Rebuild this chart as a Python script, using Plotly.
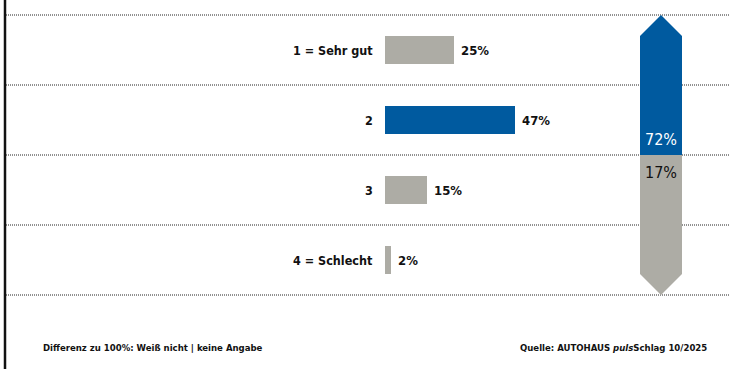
import plotly.graph_objects as go

categories = ["1 = Sehr gut", "2", "3", "4 = Schlecht"]
values = [25, 47, 15, 2]
bar_colors = ["#adaca5", "#005a9f", "#adaca5", "#adaca5"]
footnote_left = "Differenz zu 100%: Weiß nicht | keine Angabe"
footnote_right = "Quelle: AUTOHAUS <i>puls</i>Schlag 10/2025"

top2 = sum(values[:2])
bottom2 = sum(values[2:])

FONT = "DejaVu Sans Condensed, Liberation Sans Narrow, sans-serif"
BLUE = "#005a9f"
GRAY = "#adaca5"

W, H = 729, 369
px_per_pct = 2.77
x0_px = 385
xmin = -x0_px / px_per_pct
xmax = (W - x0_px) / px_per_pct
row_px = 70
first_row_px = 50
ytop = -first_row_px / row_px
ybot = ytop + H / row_px

fig = go.Figure()
fig.add_trace(go.Bar(
    x=values, y=categories, orientation="h",
    marker=dict(color=bar_colors, line=dict(width=0)),
    width=0.4, hoverinfo="skip", showlegend=False,
))

annotations = []
for i, (c, v) in enumerate(zip(categories, values)):
    annotations.append(dict(x=0, y=i, xref="x", yref="y", text="<b>%s</b>" % c,
                            xanchor="right", yanchor="middle", xshift=-10, showarrow=False,
                            font=dict(family=FONT, size=12.5, color="#111")))
    annotations.append(dict(x=v, y=i, xref="x", yref="y", text="<b>%d%%</b>" % v,
                            xanchor="left", yanchor="middle", xshift=5, showarrow=False,
                            font=dict(family=FONT, size=13, color="#111")))

shapes = []
# dotted separators
for yv in [-0.5, 0.5, 1.5, 2.5, 3.5]:
    shapes.append(dict(type="line", xref="paper", yref="y", x0=6 / W, x1=1, y0=yv, y1=yv,
                       line=dict(color="#222", width=1, dash="1px,1px")))
# left border
shapes.append(dict(type="line", xref="paper", yref="paper", x0=5 / W, x1=5 / W, y0=0, y1=1,
                   line=dict(color="#111", width=2.5)))

# arrow (paper x, data y)
xl, xr, xc = 640 / W, 682 / W, 661 / W
sh_top = -0.2
sh_bot = 3.2
shapes.append(dict(type="path", xref="paper", yref="y",
                   path=f"M {xl},1.5 L {xl},{sh_top} L {xc},-0.5 L {xr},{sh_top} L {xr},1.5 Z",
                   fillcolor=BLUE, line=dict(width=0), layer="above"))
shapes.append(dict(type="path", xref="paper", yref="y",
                   path=f"M {xl},1.5 L {xl},{sh_bot} L {xc},3.5 L {xr},{sh_bot} L {xr},1.5 Z",
                   fillcolor=GRAY, line=dict(width=0), layer="above"))

annotations.append(dict(x=xc, y=1.5, xref="paper", yref="y", text="%d%%" % top2,
                        yanchor="bottom", xanchor="center", yshift=4, showarrow=False,
                        font=dict(family=FONT, size=16, color="white")))
annotations.append(dict(x=xc, y=1.5, xref="paper", yref="y", text="%d%%" % bottom2,
                        yanchor="top", xanchor="center", yshift=-6, showarrow=False,
                        font=dict(family=FONT, size=16, color="#111")))

annotations.append(dict(x=41 / W, y=1 - 347 / H, xref="paper", yref="paper",
                        text="<b>%s</b>" % footnote_left, xanchor="left", yanchor="middle",
                        showarrow=False, font=dict(family=FONT, size=9.5, color="#111")))
annotations.append(dict(x=709 / W, y=1 - 347 / H, xref="paper", yref="paper",
                        text="<b>%s</b>" % footnote_right, xanchor="right", yanchor="middle",
                        showarrow=False, font=dict(family=FONT, size=9.5, color="#111")))

fig.update_layout(
    width=W, height=H, margin=dict(l=0, r=0, t=0, b=0),
    paper_bgcolor="white", plot_bgcolor="white",
    xaxis=dict(range=[xmin, xmax], visible=False, fixedrange=True),
    yaxis=dict(type="category", categoryorder="array", categoryarray=categories,
               range=[ybot, ytop], visible=False, fixedrange=True),
    shapes=shapes, annotations=annotations, bargap=0,
)
fig.write_html("out.html")
